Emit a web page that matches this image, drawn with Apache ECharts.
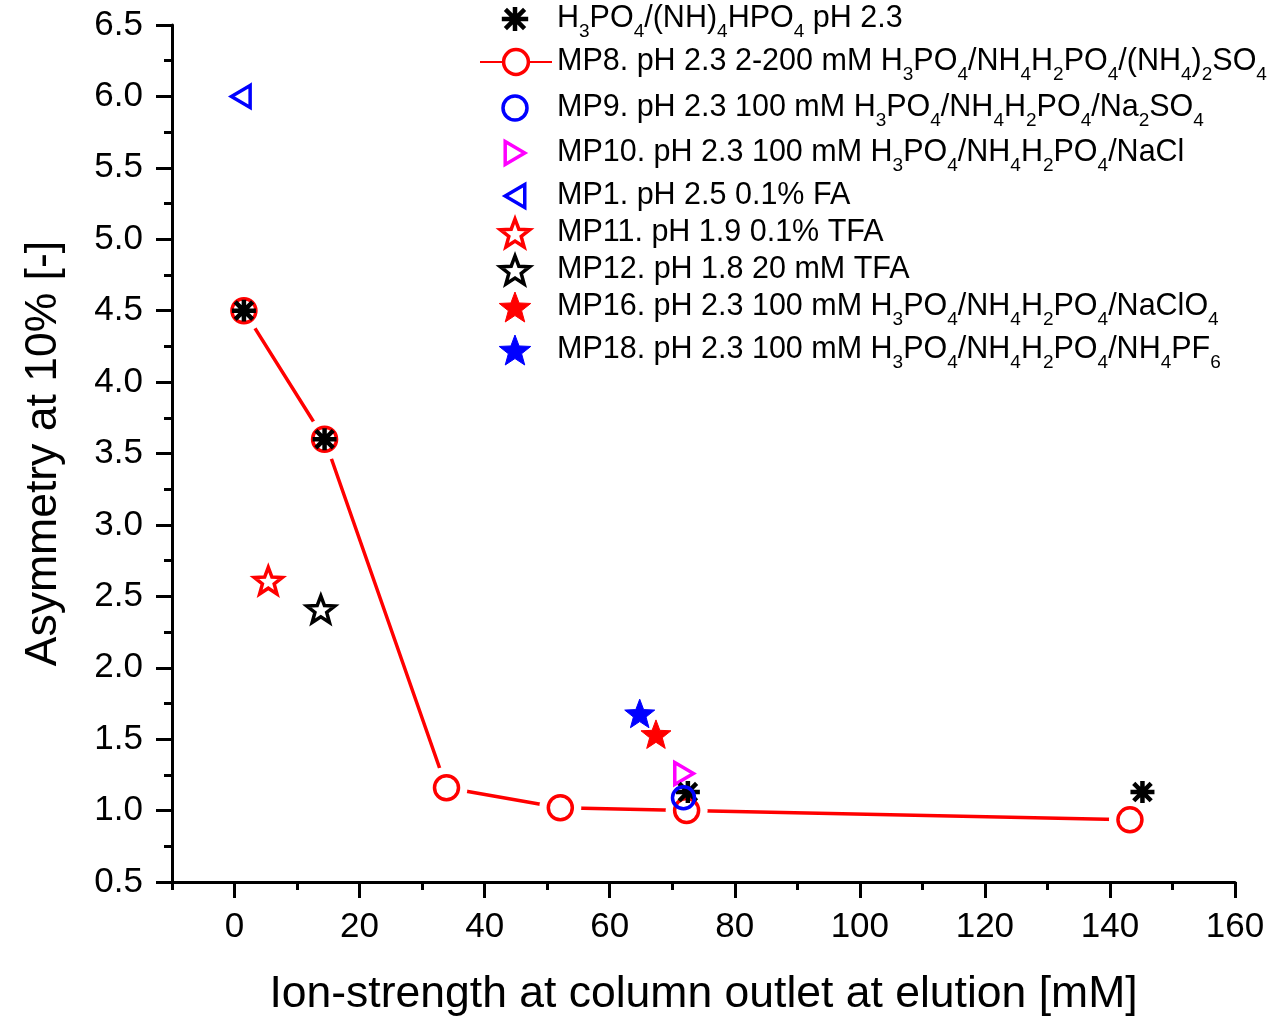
<!DOCTYPE html>
<html><head><meta charset="utf-8">
<script src="https://cdn.jsdelivr.net/npm/echarts@6/dist/echarts.min.js"></script>
<style>html,body{margin:0;padding:0;background:#fff}#c{width:1273px;height:1022px}</style>
</head><body><div id="c"></div>
<script>
// ---------- data ----------
const astX  = [1.5, 14.4, 72.5, 145.2];
const astY  = [4.5, 3.6, 1.13, 1.13];
const mp8X  = [1.5, 14.4, 33.9, 52.1, 72.3, 143.2];
const mp8Y  = [4.5, 3.6, 1.16, 1.02, 1.0, 0.935];
const mp9X  = [71.8];  const mp9Y  = [1.09];
const mp10X = [71.9];  const mp10Y = [1.26];
const mp1X  = [1.0];   const mp1Y  = [6.0];
const mp11X = [5.4];   const mp11Y = [2.61];
const mp12X = [13.8];  const mp12Y = [2.41];
const mp16X = [67.4];  const mp16Y = [1.535];
const mp18X = [64.8];  const mp18Y = [1.68];
const xTickLabels = [0, 20, 40, 60, 80, 100, 120, 140, 160];
const yTickLabels = [0.5, 1.0, 1.5, 2.0, 2.5, 3.0, 3.5, 4.0, 4.5, 5.0, 5.5, 6.0, 6.5];
const seriesNames = [
  'H3PO4/(NH)4HPO4 pH 2.3',
  'MP8. pH 2.3 2-200 mM H3PO4/NH4H2PO4/(NH4)2SO4',
  'MP9. pH 2.3 100 mM H3PO4/NH4H2PO4/Na2SO4',
  'MP10. pH 2.3 100 mM H3PO4/NH4H2PO4/NaCl',
  'MP1. pH 2.5 0.1% FA',
  'MP11. pH 1.9 0.1% TFA',
  'MP12. pH 1.8 20 mM TFA',
  'MP16. pH 2.3 100 mM H3PO4/NH4H2PO4/NaClO4',
  'MP18. pH 2.3 100 mM H3PO4/NH4H2PO4/NH4PF6'
];
const legendLabels = [
  'H{s|3}PO{s|4}/(NH){s|4}HPO{s|4} pH 2.3',
  'MP8. pH 2.3 2-200 mM H{s|3}PO{s|4}/NH{s|4}H{s|2}PO{s|4}/(NH{s|4}){s|2}SO{s|4}',
  'MP9. pH 2.3 100 mM H{s|3}PO{s|4}/NH{s|4}H{s|2}PO{s|4}/Na{s|2}SO{s|4}',
  'MP10. pH 2.3 100 mM H{s|3}PO{s|4}/NH{s|4}H{s|2}PO{s|4}/NaCl',
  'MP1. pH 2.5 0.1% FA',
  'MP11. pH 1.9 0.1% TFA',
  'MP12. pH 1.8 20 mM TFA',
  'MP16. pH 2.3 100 mM H{s|3}PO{s|4}/NH{s|4}H{s|2}PO{s|4}/NaClO{s|4}',
  'MP18. pH 2.3 100 mM H{s|3}PO{s|4}/NH{s|4}H{s|2}PO{s|4}/NH{s|4}PF{s|6}'
];
const xTitle = 'Ion-strength at column outlet at elution [mM]';
const yTitle = 'Asymmetry at 10% [-]';

// ---------- styling ----------
const FONT = '"Liberation Sans", Arial, Helvetica, sans-serif';
const RED = '#ff0000', BLUE = '#0000ff', MAG = '#ff00ff', BLK = '#000000';
const pair = (xs, ys) => xs.map((x, i) => [x, ys[i]]);
const STAR = 'path://M50,0L62.34,33.01L97.55,34.55L69.97,56.49L79.39,90.45L50,71L20.61,90.45L30.03,56.49L2.45,34.55L37.66,33.01Z';
const AST = 'path://M0,10L22,10M11,0L11,20M3,2L19,18M19,2L3,18';
const TRI_R = 'path://M0,0L17,10L0,20Z';
const TRI_L = 'path://M17,0L0,10L17,20Z';

const labelOf = {};
seriesNames.forEach((n, i) => labelOf[n] = legendLabels[i]);

// legend layout: icon centre x = 515, text starts at 557
const rowCenter = [19, 62, 108, 153, 196, 233, 270, 307, 350];
const iconH     = [24, 31, 24, 23, 23, 28, 28, 30, 30];
const iconBW    = [4.5, 3.5, 3.5, 3.5, 3.5, 3.5, 3.5, 1, 1];
// visual half width of icon (scatter icons are bounded by their own shape)
const iconHalfW = [13.2, 0, 12, 9.8, 9.8, 14.7, 14.7, 15.8, 15.8];
const legends = seriesNames.map((n, i) => {
  const isLine = i === 1;
  return {
    data: [n],
    left: isLine ? 479 : 515 - iconHalfW[i] - iconBW[i] / 2,
    top: rowCenter[i] - 17,
    padding: 0,
    itemWidth: isLine ? 72 : 74,
    itemHeight: iconH[i],
    selectedMode: false,
    itemStyle: { borderWidth: iconBW[i] },
    formatter: name => labelOf[name],
    textStyle: {
      fontFamily: FONT, fontSize: 30.5, color: BLK, lineHeight: 34,
      rich: { s: { fontFamily: FONT, fontSize: 19, color: BLK, lineHeight: 34, verticalAlign: 'top', padding: [20, 0, 0, 0] } }
    }
  };
});

const option = {
  animation: false,
  backgroundColor: '#fff',
  textStyle: { fontFamily: FONT },
  grid: { left: 172, right: 38, top: 25, bottom: 139 },
  legend: legends,
  xAxis: [
    {
      type: 'value', min: -10, max: 160, interval: 10,
      axisLine: { show: true, onZero: false, lineStyle: { color: BLK, width: 3 } },
      splitLine: { show: false },
      name: xTitle, nameLocation: 'middle', nameGap: 90,
      nameTextStyle: { fontFamily: FONT, fontSize: 44.5, color: BLK },
      axisTick: { show: true, length: 8, lineStyle: { color: BLK, width: 3 } },
      axisLabel: { show: true, customValues: xTickLabels, margin: 28, fontFamily: FONT, fontSize: 35, color: BLK,
        formatter: v => (v % 20 === 0 ? String(v) : '') }
    },
    {
      type: 'value', min: -10, max: 160, interval: 10, position: 'bottom',
      axisLine: { show: false, onZero: false }, splitLine: { show: false }, axisLabel: { show: false },
      axisTick: { show: true, customValues: xTickLabels, length: 16, lineStyle: { color: BLK, width: 3 } }
    }
  ],
  yAxis: [
    {
      type: 'value', min: 0.5, max: 6.5, interval: 0.5,
      axisLine: { show: true, onZero: false, lineStyle: { color: BLK, width: 3 } },
      splitLine: { show: false },
      name: yTitle, nameLocation: 'middle', nameGap: 106, nameRotate: 90,
      nameTextStyle: { fontFamily: FONT, fontSize: 44.5, color: BLK },
      axisTick: { show: true, length: 16, lineStyle: { color: BLK, width: 3 } },
      axisLabel: { show: true, customValues: yTickLabels, margin: 29, fontFamily: FONT, fontSize: 35, color: BLK,
        formatter: v => v.toFixed(1) }
    },
    {
      type: 'value', min: 0.5, max: 6.5, interval: 0.25, position: 'left',
      axisLine: { show: false, onZero: false }, splitLine: { show: false }, axisLabel: { show: false },
      axisTick: { show: true, length: 8, lineStyle: { color: BLK, width: 3 } }
    }
  ],
  series: [
    { name: seriesNames[0], type: 'scatter', z: 6, data: pair(astX, astY),
      symbol: AST, symbolSize: 24, symbolKeepAspect: true,
      itemStyle: { color: 'transparent', borderColor: BLK, borderWidth: 4.5, opacity: 1 } },
    { name: seriesNames[1], type: 'line', z: 2, data: pair(mp8X, mp8Y),
      symbol: 'circle', symbolSize: 24, showSymbol: true,
      lineStyle: { color: RED, width: 3.5 },
      itemStyle: { color: '#fff', borderColor: RED, borderWidth: 3.5 } },
    { name: '__halo', type: 'scatter', z: 3, silent: true, data: pair(mp8X, mp8Y),
      symbol: 'circle', symbolSize: 42, itemStyle: { color: '#fff', opacity: 1 } },
    { name: '__mp8pts', type: 'scatter', z: 4, silent: true, data: pair(mp8X, mp8Y),
      symbol: 'circle', symbolSize: 24,
      itemStyle: { color: 'transparent', borderColor: RED, borderWidth: 3.5, opacity: 1 } },
    { name: seriesNames[2], type: 'scatter', z: 7, data: pair(mp9X, mp9Y),
      symbol: 'circle', symbolSize: 22,
      itemStyle: { color: 'transparent', borderColor: BLUE, borderWidth: 3.5, opacity: 1 } },
    { name: seriesNames[3], type: 'scatter', z: 5, data: pair(mp10X, mp10Y),
      symbol: TRI_R, symbolSize: 22, symbolKeepAspect: true,
      itemStyle: { color: 'transparent', borderColor: MAG, borderWidth: 3.5, opacity: 1 } },
    { name: seriesNames[4], type: 'scatter', z: 5, data: pair(mp1X, mp1Y),
      symbol: TRI_L, symbolSize: 22, symbolKeepAspect: true,
      itemStyle: { color: 'transparent', borderColor: BLUE, borderWidth: 3.5, opacity: 1 } },
    { name: seriesNames[5], type: 'scatter', z: 5, data: pair(mp11X, mp11Y),
      symbol: STAR, symbolSize: 28, symbolKeepAspect: true,
      itemStyle: { color: '#fff', borderColor: RED, borderWidth: 3.5, opacity: 1 } },
    { name: seriesNames[6], type: 'scatter', z: 5, data: pair(mp12X, mp12Y),
      symbol: STAR, symbolSize: 28, symbolKeepAspect: true,
      itemStyle: { color: '#fff', borderColor: BLK, borderWidth: 3.5, opacity: 1 } },
    { name: seriesNames[7], type: 'scatter', z: 5, data: pair(mp16X, mp16Y),
      symbol: STAR, symbolSize: 30, symbolKeepAspect: true,
      itemStyle: { color: RED, borderColor: RED, borderWidth: 1, opacity: 1 } },
    { name: seriesNames[8], type: 'scatter', z: 5, data: pair(mp18X, mp18Y),
      symbol: STAR, symbolSize: 30, symbolKeepAspect: true,
      itemStyle: { color: BLUE, borderColor: BLUE, borderWidth: 1, opacity: 1 } }
  ]
};
const chart = echarts.init(document.getElementById('c'), null, { renderer: 'canvas' });
chart.setOption(option);
</script></body></html>
